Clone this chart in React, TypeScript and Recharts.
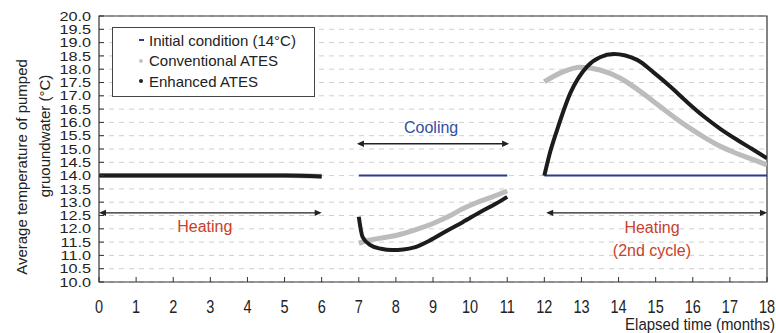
import React from 'react';
import {
  LineChart,
  Line,
  XAxis,
  YAxis,
  CartesianGrid,
  ReferenceLine,
  ReferenceArea,
  ReferenceDot,
  Legend,
  Label,
} from 'recharts';

// ---- data ----
const monthTicks = [0, 1, 2, 3, 4, 5, 6, 7, 8, 9, 10, 11, 12, 13, 14, 15, 16, 17, 18];
const tempTicks = [10, 10.5, 11, 11.5, 12, 12.5, 13, 13.5, 14, 14.5, 15, 15.5, 16, 16.5, 17, 17.5, 18, 18.5, 19, 19.5, 20];

const initialMonths = [0, 6, 6.5, 7, 11, 11.5, 12, 18];
const initialTemps = [14, 14, null, 14, 14, null, 14, 14];

const conventionalMonths = [
  0, 1, 2, 3, 4, 5, 6, 6.5,
  7, 7.2, 7.6, 8, 8.5, 9, 9.4, 9.8, 10.2, 10.6, 11, 11.5,
  12, 12.5, 12.97, 13.5, 14.05, 14.5, 14.95, 15.4, 15.86, 16.3, 16.76, 17.2, 17.65, 18,
];
const conventionalTemps = [
  14, 14, 14, 14, 14, 14, 13.98, null,
  11.45, 11.55, 11.65, 11.75, 11.95, 12.2, 12.45, 12.75, 13.0, 13.2, 13.42, null,
  17.53, 17.9, 18.07, 17.97, 17.66, 17.25, 16.78, 16.3, 15.84, 15.45, 15.09, 14.82, 14.59, 14.4,
];

const enhancedMonths = [
  0, 1, 2, 3, 4, 5, 6, 6.5,
  7, 7.1, 7.3, 7.6, 7.9, 8.2, 8.5, 8.9, 9.4, 9.8, 10.3, 10.7, 11, 11.5,
  12, 12.15, 12.34, 12.7, 13.15, 13.5, 13.87, 14.5, 14.95, 15.4, 15.85, 16.3, 16.75, 17.2, 17.6, 18,
];
const enhancedTemps = [
  14, 14, 14, 14, 14, 14, 13.97, null,
  12.45, 11.7, 11.4, 11.25, 11.2, 11.22, 11.3, 11.55, 11.95, 12.25, 12.65, 12.95, 13.2, null,
  14.0, 14.85, 15.7, 17.1, 18.1, 18.45, 18.57, 18.35, 17.87, 17.34, 16.76, 16.22, 15.75, 15.34, 15.0, 14.65,
];

const seriesNames = ['Initial condition (14°C)', 'Conventional ATES', 'Enhanced ATES'];

const arrowSpans = [
  { from: 0, to: 6, level: 12.6 },
  { from: 6.95, to: 11.05, level: 15.2 },
  { from: 12.05, to: 18, level: 12.6 },
];

const phaseLabels = [
  { text: 'Heating', month: 2.85, temp: 12.08, color: '#c8402e' },
  { text: 'Cooling', month: 8.95, temp: 15.83, color: '#2f4f9f' },
  { text: 'Heating', month: 14.9, temp: 12.05, color: '#c8402e' },
  { text: '(2nd cycle)', month: 14.9, temp: 11.2, color: '#c8402e' },
];

const toPoints = (xs: number[], ys: (number | null)[]) => xs.map((x, i) => ({ x, y: ys[i] }));

const initialData = toPoints(initialMonths, initialTemps);
const conventionalData = toPoints(conventionalMonths, conventionalTemps);
const enhancedData = toPoints(enhancedMonths, enhancedTemps);

const FONT = '"Liberation Sans", Arial, sans-serif';

const YTick = (props: any) => {
  const { x, y, payload } = props;
  const axisX = x + 8;
  return (
    <g>
      <line x1={axisX} y1={y} x2={axisX + 5} y2={y} stroke="#333" strokeWidth={1} />
      <text
        transform={`translate(${x} ${y}) scale(1.25 1)`}
        x={0}
        y={0}
        dy="0.36em"
        textAnchor="end"
        fontSize={13}
        fontFamily={FONT}
        fill="#222"
      >
        {Number(payload.value).toFixed(1)}
      </text>
    </g>
  );
};

const XTick = (props: any) => {
  const { x, y, payload } = props;
  const axisY = y - 18;
  return (
    <g>
      <line x1={x} y1={axisY} x2={x} y2={axisY - 5} stroke="#333" strokeWidth={1} />
      <text
        transform={`translate(${x} ${y}) scale(1 1.25)`}
        x={0}
        y={0}
        dy="0.71em"
        textAnchor="middle"
        fontSize={14.5}
        fontFamily={FONT}
        fill="#222"
      >
        {payload.value}
      </text>
    </g>
  );
};

const DoubleArrow = (props: any) => {
  const { x1, y1, x2, y2 } = props;
  const h = 7;
  const w = 3.2;
  return (
    <g>
      <line x1={x1 + 2} y1={y1} x2={x2 - 2} y2={y2} stroke="#222" strokeWidth={1.4} />
      <path d={`M${x1},${y1} L${x1 + h},${y1 - w} L${x1 + h},${y1 + w} Z`} fill="#222" />
      <path d={`M${x2},${y2} L${x2 - h},${y2 - w} L${x2 - h},${y2 + w} Z`} fill="#222" />
    </g>
  );
};

const makeTextShape = (text: string, color: string) => (p: any) => (
  <text
    x={p.cx}
    y={p.cy}
    dy="0.36em"
    textAnchor="middle"
    fontSize={16}
    fontFamily={FONT}
    fill={color}
  >
    {text}
  </text>
);

const LegendBox = () => {
  const markers = [
    <span style={{ display: 'inline-block', width: 5, height: 2, background: '#2b3990' }} />,
    <span style={{ display: 'inline-block', width: 4, height: 4, borderRadius: 2, background: '#c4c4c4' }} />,
    <span style={{ display: 'inline-block', width: 4, height: 4, borderRadius: 2, background: '#222' }} />,
  ];
  return (
    <div
      style={{
        boxSizing: 'border-box',
        width: 203,
        height: 70,
        border: '1.5px solid #444',
        background: '#fff',
        padding: '2px 0 0 20px',
        fontFamily: FONT,
        fontSize: 15,
        color: '#222',
      }}
    >
      {seriesNames.map((n, i) => (
        <div key={n} style={{ display: 'flex', alignItems: 'center', height: 20.5 }}>
          <span style={{ width: 16, display: 'flex', justifyContent: 'center', alignItems: 'center' }}>{markers[i]}</span>
          <span>{n}</span>
        </div>
      ))}
    </div>
  );
};

export default function App() {
  return (
    <div style={{ position: 'absolute', left: 0, top: 0, width: 776, height: 333, background: '#fff' }}>
      <LineChart width={776} height={333} margin={{ top: 16, right: 9, bottom: 0, left: 0 }}>
        <CartesianGrid horizontal vertical={false} stroke="#cfcfcf" strokeDasharray="5 5" />
        <XAxis
          type="number"
          dataKey="x"
          domain={[0, 18]}
          ticks={monthTicks}
          interval={0}
          axisLine={false}
          tickLine={false}
          tickSize={0}
          tickMargin={18}
          height={51}
          tick={<XTick />}
          allowDataOverflow
        >
          <Label
            content={() => (
              <text
                transform="translate(775 330) scale(1 1.1)"
                x={0}
                y={0}
                textAnchor="end"
                fontSize={15}
                fontFamily={FONT}
                fill="#222"
              >
                Elapsed time (months)
              </text>
            )}
          />
        </XAxis>
        <YAxis
          type="number"
          domain={[10, 20]}
          ticks={tempTicks}
          interval={0}
          width={99}
          axisLine={false}
          tickLine={false}
          tickSize={0}
          tickMargin={8}
          tick={<YTick />}
          allowDataOverflow
        >
          <Label
            content={() => (
              <g>
                <text
                  transform="translate(22 167) rotate(-90)"
                  textAnchor="middle"
                  dy="0.36em"
                  fontSize={15}
                  fontFamily={FONT}
                  fill="#222"
                >
                  Average temperature of pumped
                </text>
                <text
                  transform="translate(45 136) rotate(-90)"
                  textAnchor="middle"
                  dy="0.36em"
                  fontSize={15}
                  fontFamily={FONT}
                  fill="#222"
                >
                  gruoundwater (°C)
                </text>
              </g>
            )}
          />
        </YAxis>
        <ReferenceArea x1={0} x2={18} y1={10} y2={20} fill="none" stroke="#333" strokeWidth={1.2} />
        {arrowSpans.map((a, i) => (
          <ReferenceLine
            key={`arr${i}`}
            segment={[
              { x: a.from, y: a.level },
              { x: a.to, y: a.level },
            ]}
            ifOverflow="visible"
            shape={DoubleArrow}
          />
        ))}
        {phaseLabels.map((l, i) => (
          <ReferenceDot
            key={`lab${i}`}
            x={l.month}
            y={l.temp}
            r={1}
            ifOverflow="visible"
            shape={makeTextShape(l.text, l.color)}
          />
        ))}
        <Line
          data={initialData}
          dataKey="y"
          name={seriesNames[0]}
          type="linear"
          stroke="#2b3990"
          strokeWidth={2}
          dot={false}
          connectNulls={false}
          isAnimationActive={false}
        />
        <Line
          data={conventionalData}
          dataKey="y"
          name={seriesNames[1]}
          type="monotone"
          stroke="#bcbcbc"
          strokeWidth={5}
          dot={false}
          connectNulls={false}
          isAnimationActive={false}
        />
        <Line
          data={enhancedData}
          dataKey="y"
          name={seriesNames[2]}
          type="monotone"
          stroke="#1c1c1c"
          strokeWidth={4}
          dot={false}
          connectNulls={false}
          isAnimationActive={false}
        />
        <Legend
          layout="vertical"
          align="center"
          verticalAlign="middle"
          content={<LegendBox />}
          wrapperStyle={{ left: 112, top: 27, width: 203, height: 70 }}
        />
      </LineChart>
    </div>
  );
}
